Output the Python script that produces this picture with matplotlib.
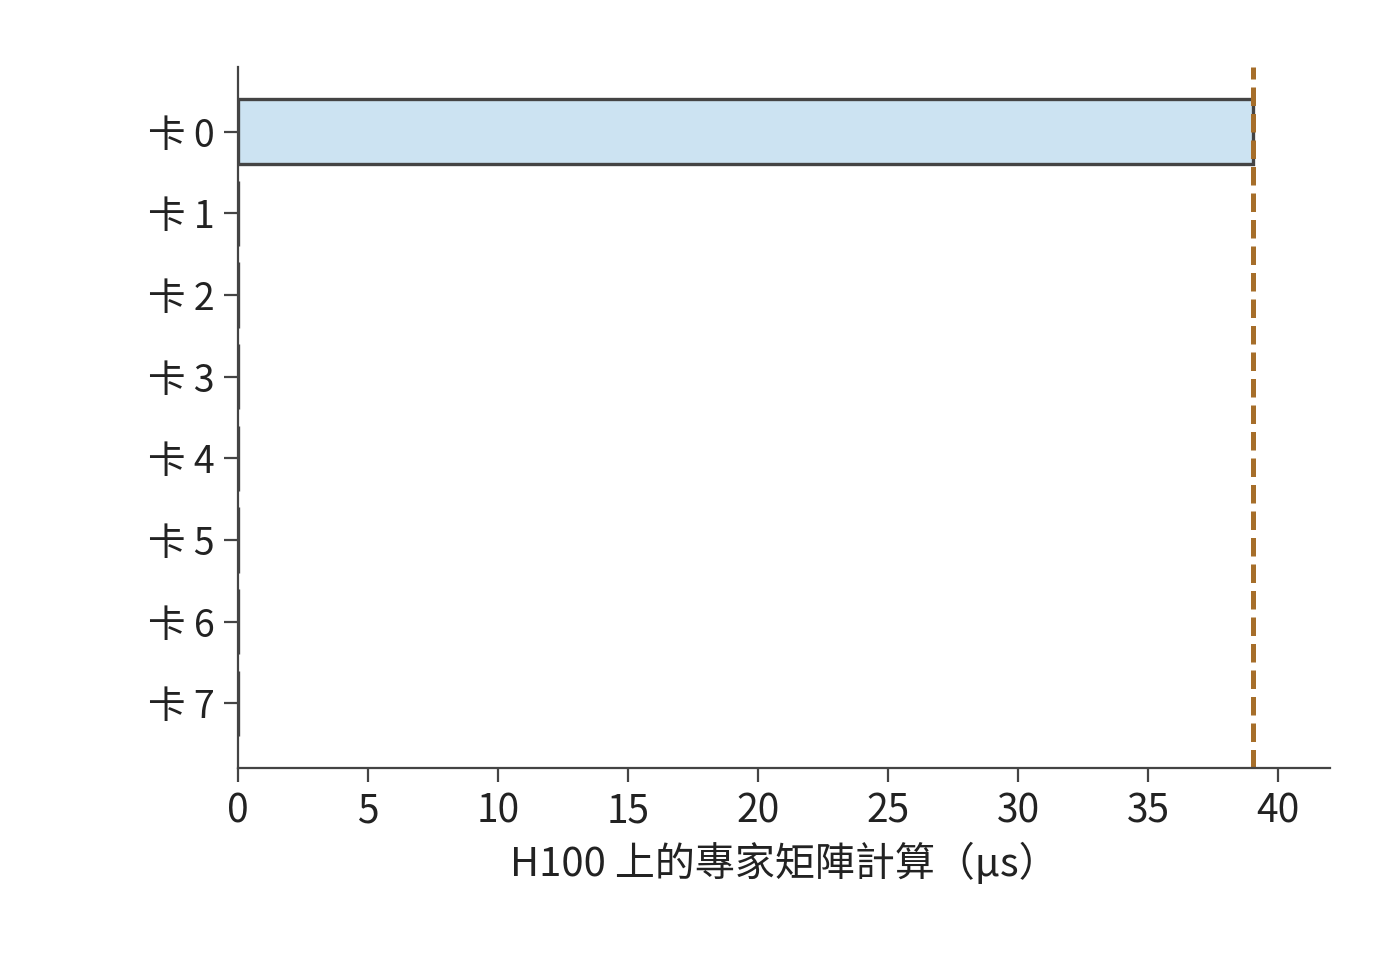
import numpy as np
import matplotlib.pyplot as plt

plt.rcParams['font.family'] = ['Noto Sans CJK TC', 'DejaVu Sans']

# data
cards = ["卡 0", "卡 1", "卡 2", "卡 3", "卡 4", "卡 5", "卡 6", "卡 7"]
times_us = [39.05, 0, 0, 0, 0, 0, 0, 0]
max_time = 39.05
x_ticks = [0, 5, 10, 15, 20, 25, 30, 35, 40]

dark = "#444444"
fig, ax = plt.subplots(figsize=(7, 4.8), dpi=200)
fig.subplots_adjust(left=0.17, right=0.95, top=0.93, bottom=0.2)

y = np.arange(len(cards))
ax.barh(y, times_us, height=0.8, color="#cce3f2", edgecolor=dark, linewidth=1.2)
ax.axvline(max_time, color="#a66e2a", linestyle="--", linewidth=1.8)

ax.set_yticks(y)
ax.set_yticklabels(cards)
ax.invert_yaxis()
ax.set_xlim(0, 42)
ax.set_xticks(x_ticks)
ax.set_xlabel("H100 上的專家矩陣計算（μs）", fontsize=14.4, color="#222222", labelpad=4)

for s in ["top", "right"]:
    ax.spines[s].set_visible(False)
for s in ["left", "bottom"]:
    ax.spines[s].set_color(dark)
    ax.spines[s].set_linewidth(0.8)
ax.tick_params(colors=dark, labelcolor="#222222", labelsize=14, width=0.8, length=5)
ax.tick_params(axis="y", labelsize=13.5, pad=3.5)

plt.savefig("out.png", dpi=200)
